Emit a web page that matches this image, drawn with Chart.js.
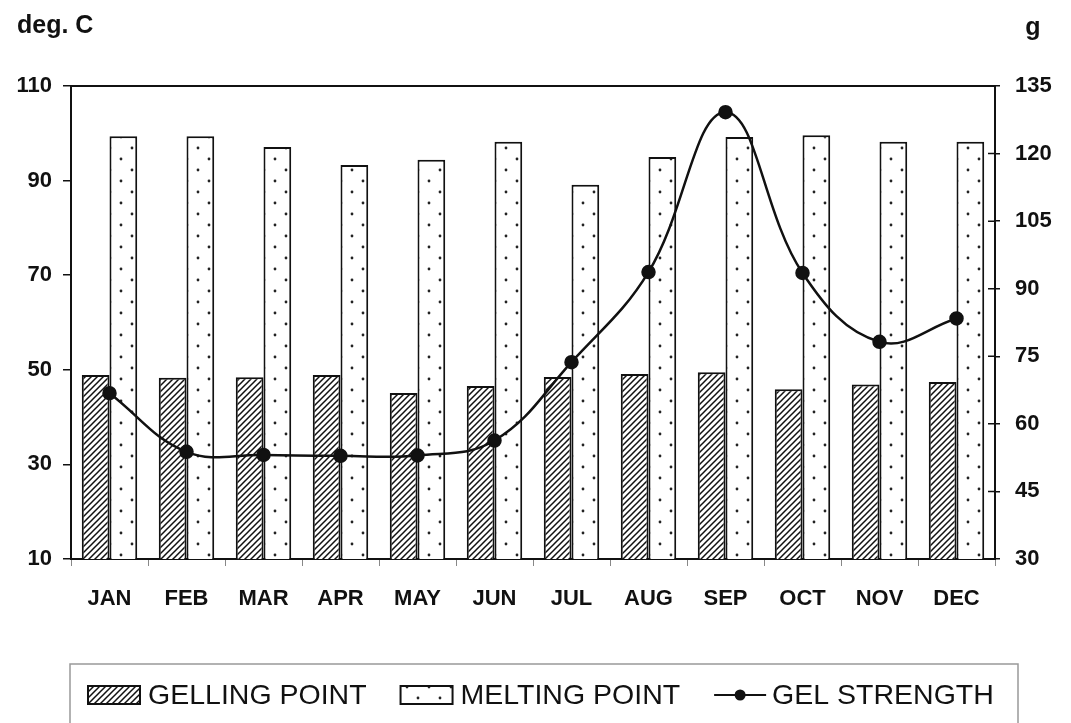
<!DOCTYPE html>
<html lang="en">
  <head>
    <meta charset="UTF-8" />
    <script src="https://cdn.jsdelivr.net/npm/chart.js"></script>
    <style>
      html,
      body {
        margin: 0;
        background: #fff;
      }
    </style>
  </head>
  <body>
    <canvas id="gelChart" width="1071" height="723"></canvas>

    <script>
      // monthly values
      const months = ["JAN", "FEB", "MAR", "APR", "MAY", "JUN", "JUL", "AUG", "SEP", "OCT", "NOV", "DEC"];
      const gellingPoint = [48.9, 48.3, 48.4, 48.9, 45.1, 46.6, 48.5, 49.1, 49.5, 45.9, 46.9, 47.4];
      const meltingPoint = [99.4, 99.4, 97.1, 93.3, 94.4, 98.2, 89.1, 95.0, 99.2, 99.6, 98.2, 98.2];
      const gelStrength = [66.8, 53.8, 53.1, 52.9, 53.0, 56.3, 73.7, 93.7, 129.2, 93.5, 78.2, 83.4];

      const tempTicks = { min: 10, max: 110, step: 20 };
      const gTicks = { min: 30, max: 135, step: 15 };

      const INK = "#111";
      const FONT = "'Liberation Sans', Arial, sans-serif";

      const canvas = document.getElementById("gelChart");
      const ctx = canvas.getContext("2d");

      // diagonal hatching for gelling point bars
      function hatchPattern() {
        const c = document.createElement("canvas");
        c.width = 6;
        c.height = 6;
        const g = c.getContext("2d");
        g.fillStyle = "#fff";
        g.fillRect(0, 0, 6, 6);
        g.strokeStyle = INK;
        g.lineWidth = 1.5;
        g.beginPath();
        g.moveTo(-1, 7);
        g.lineTo(7, -1);
        g.moveTo(-1, 1);
        g.lineTo(1, -1);
        g.moveTo(5, 7);
        g.lineTo(7, 5);
        g.stroke();
        return ctx.createPattern(c, "repeat");
      }

      // sparse staggered dots for melting point bars (11px columns, so every
      // 77px category lines up the same way)
      function dotPattern() {
        const c = document.createElement("canvas");
        c.width = 22;
        c.height = 22;
        const g = c.getContext("2d");
        g.fillStyle = "#fff";
        g.fillRect(0, 0, 22, 22);
        g.fillStyle = "#222";
        [[11, 5], [0, 16], [22, 16]].forEach(([x, y]) => {
          g.beginPath();
          g.arc(x, y, 1.4, 0, Math.PI * 2);
          g.fill();
        });
        return ctx.createPattern(c, "repeat");
      }

      const hatch = hatchPattern();
      const dots = dotPattern();

      // frame top, inner right ticks, unit labels and the boxed legend
      const extras = {
        id: "extras",
        afterDraw(chart) {
          const c = chart.ctx;
          const a = chart.chartArea;
          c.save();

          c.strokeStyle = INK;
          c.lineWidth = 2;
          c.beginPath();
          c.moveTo(a.left, a.top);
          c.lineTo(a.right, a.top);
          c.stroke();

          const y1 = chart.scales.y1;
          c.lineWidth = 1.5;
          c.beginPath();
          y1.ticks.forEach((t) => {
            const py = y1.getPixelForValue(t.value);
            c.moveTo(a.right - 7, py);
            c.lineTo(a.right, py);
          });
          c.stroke();

          c.fillStyle = INK;
          c.font = "bold 25px " + FONT;
          c.textBaseline = "middle";
          c.textAlign = "left";
          c.fillText("deg. C", 17, 26);
          c.textAlign = "center";
          c.fillText("g", 1033, 28);

          // legend
          const lx = a.left - 1;
          const ly = a.bottom + 105;
          const rx = a.right + 23;
          c.strokeStyle = "#999";
          c.lineWidth = 1.5;
          c.strokeRect(lx, ly, rx - lx, 100);

          const cy = ly + 31;
          c.font = "28.5px " + FONT;
          c.textAlign = "left";
          let x = lx + 18;
          chart.data.datasets.forEach((ds) => {
            if (ds.type === "line") {
              c.strokeStyle = INK;
              c.lineWidth = 2;
              c.beginPath();
              c.moveTo(x, cy);
              c.lineTo(x + 52, cy);
              c.stroke();
              c.fillStyle = INK;
              c.beginPath();
              c.arc(x + 26, cy, 5.5, 0, Math.PI * 2);
              c.fill();
              x += 58;
            } else {
              c.fillStyle = ds.backgroundColor;
              c.fillRect(x, cy - 9, 52, 18);
              c.strokeStyle = INK;
              c.lineWidth = 2;
              c.strokeRect(x, cy - 9, 52, 18);
              x += 60;
            }
            c.fillStyle = INK;
            c.fillText(ds.label, x, cy + 1);
            x += c.measureText(ds.label).width + 34;
          });

          c.restore();
        },
      };

      const tickFont = { family: FONT, size: 22, weight: "bold" };

      new Chart(ctx, {
        data: {
          labels: months,
          datasets: [
            {
              type: "bar",
              label: "GELLING POINT",
              data: gellingPoint,
              yAxisID: "y",
              backgroundColor: hatch,
              borderColor: INK,
              borderWidth: 2,
              categoryPercentage: 0.72,
              barPercentage: 1.0,
              order: 2,
            },
            {
              type: "bar",
              label: "MELTING POINT",
              data: meltingPoint,
              yAxisID: "y",
              backgroundColor: dots,
              borderColor: INK,
              borderWidth: 2,
              categoryPercentage: 0.72,
              barPercentage: 1.0,
              order: 2,
            },
            {
              type: "line",
              label: "GEL STRENGTH",
              data: gelStrength,
              yAxisID: "y1",
              borderColor: INK,
              borderWidth: 2.5,
              pointRadius: 6,
              pointBackgroundColor: INK,
              pointBorderColor: INK,
              tension: 0.4,
              fill: false,
              order: 1,
            },
          ],
        },
        options: {
          responsive: false,
          animation: false,
          events: [],
          layout: { padding: { top: 86, left: 0, right: 0, bottom: 0 } },
          plugins: {
            legend: { display: false },
            tooltip: { enabled: false },
          },
          scales: {
            x: {
              grid: {
                offset: true,
                drawOnChartArea: false,
                drawTicks: true,
                tickLength: 7,
                color: "#888",
                lineWidth: 1,
              },
              border: { display: true, color: INK, width: 2 },
              ticks: { font: tickFont, color: INK, padding: 20 },
              afterFit(s) {
                s.height = 164;
              },
            },
            y: {
              position: "left",
              min: tempTicks.min,
              max: tempTicks.max,
              ticks: { stepSize: tempTicks.step, font: tickFont, color: INK, padding: 11 },
              grid: { drawOnChartArea: false, tickLength: 8, color: INK, lineWidth: 1.5 },
              border: { display: true, color: INK, width: 2 },
              afterFit(s) {
                s.width = 71;
              },
            },
            y1: {
              position: "right",
              min: gTicks.min,
              max: gTicks.max,
              ticks: { stepSize: gTicks.step, font: tickFont, color: INK, padding: 15 },
              grid: { drawOnChartArea: false, tickLength: 5, color: INK, lineWidth: 1.5 },
              border: { display: true, color: INK, width: 2 },
              afterFit(s) {
                s.width = 76;
              },
            },
          },
        },
        plugins: [extras],
      });
    </script>
  </body>
</html>
